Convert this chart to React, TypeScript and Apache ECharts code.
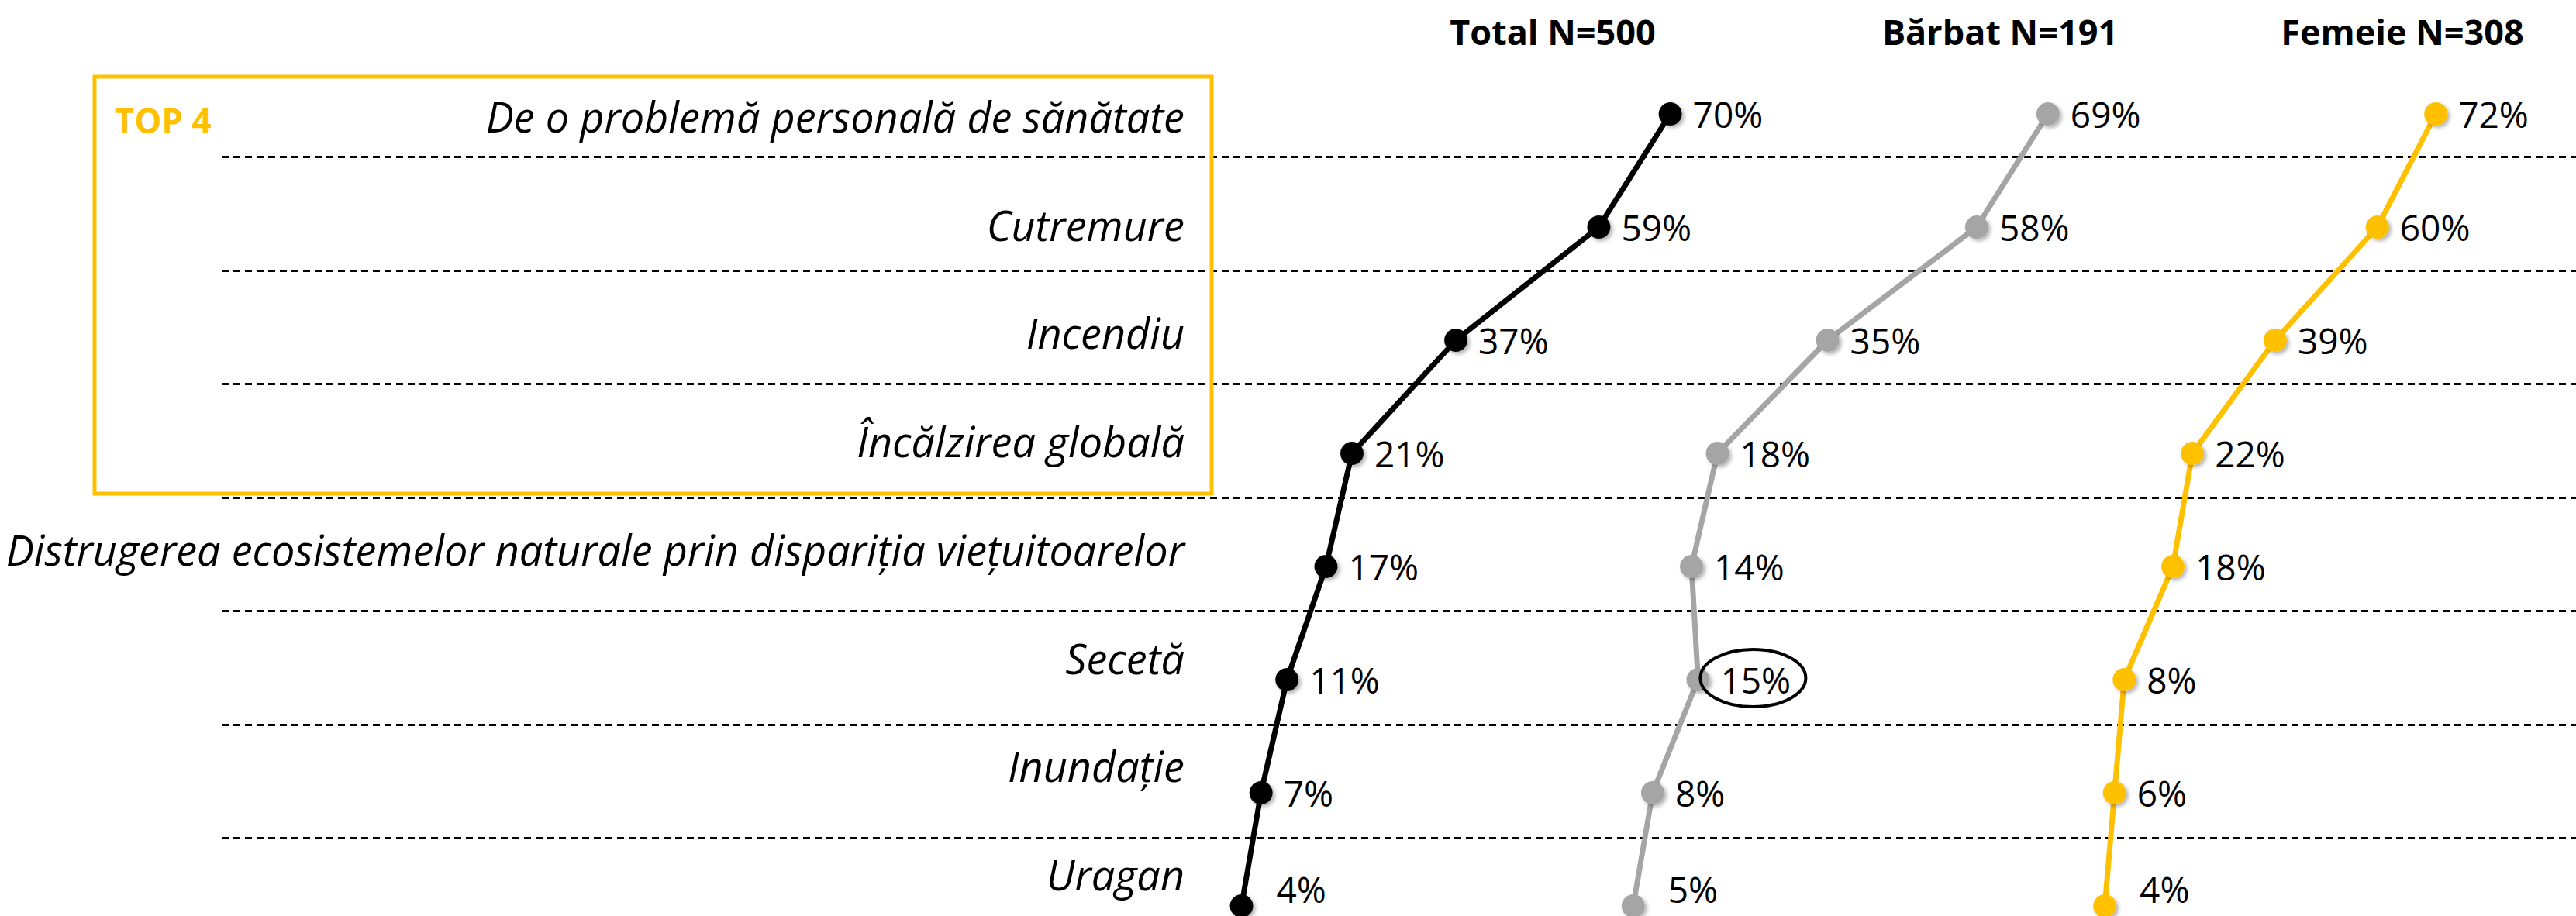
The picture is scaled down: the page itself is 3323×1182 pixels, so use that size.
import React, { useEffect, useRef } from 'react';
import * as echarts from 'echarts';

const categories = [
  'De o problemă personală de sănătate',
  'Cutremure',
  'Incendiu',
  'Încălzirea globală',
  'Distrugerea ecosistemelor naturale prin dispariția viețuitoarelor',
  'Secetă',
  'Inundație',
  'Uragan',
];
const totalValues = [70, 59, 37, 21, 17, 11, 7, 4];
const barbatValues = [69, 58, 35, 18, 14, 15, 8, 5];
const femeieValues = [72, 60, 39, 22, 18, 8, 6, 4];
const seriesNames = ['Total N=500', 'Bărbat N=191', 'Femeie N=308'];
const seriesColors = ['#000000', '#A5A5A5', '#FFC000'];
const boxTitle = 'TOP 4';
const highlightSeries = 1;
const highlightCategory = 'Secetă';

const W = 3323;
const H = 1182;
const FONT = "'Open Sans', 'Noto Sans', sans-serif";

export default function App() {
  const ref = useRef<HTMLDivElement>(null);

  useEffect(() => {
    document.body.style.margin = '0';
    const chart = echarts.init(ref.current!, null, { renderer: 'svg', width: W, height: H });
    const valueSets = [totalValues, barbatValues, femeieValues];
    const pointGrids = [
      { left: 1568, width: 838 },
      { left: 2065, width: 836 },
      { left: 2690, width: 628 },
    ];
    const grids: any[] = [
      { left: 286, width: W - 286, top: 56, height: 1172 },
      { left: 1540, width: 10, top: 150, height: 978 },
      ...pointGrids.map((g) => ({ ...g, top: 147, height: 1022 })),
    ].map((g) => ({ ...g, containLabel: false, outerBoundsMode: 'none', show: false }));

    const hiddenValueX = (gi: number) => ({
      type: 'value',
      gridIndex: gi,
      min: 0,
      max: 100,
      show: false,
    });

    const xAxis = grids.map((_, gi) => hiddenValueX(gi));
    const yAxis: any[] = [
      {
        type: 'category',
        gridIndex: 0,
        data: categories,
        inverse: true,
        boundaryGap: true,
        axisLine: { show: false },
        axisTick: { show: false },
        axisLabel: { show: false },
        splitLine: {
          show: true,
          interval: 0,
          showMinLine: false,
          showMaxLine: false,
          lineStyle: { color: '#000', width: 3, type: [9, 6] },
        },
      },
      {
        type: 'category',
        gridIndex: 1,
        data: categories,
        inverse: true,
        boundaryGap: false,
        axisLine: { show: false },
        axisTick: { show: false },
        splitLine: { show: false },
        axisLabel: {
          show: true,
          interval: 0,
          margin: 12,
          fontSize: 54,
          fontStyle: 'italic',
          fontFamily: FONT,
          color: '#000',
        },
      },
      ...pointGrids.map((_, i) => ({
        type: 'category',
        gridIndex: i + 2,
        data: categories,
        inverse: true,
        boundaryGap: false,
        show: false,
      })),
    ];

    const series = valueSets.map((vals, i) => ({
      type: 'line',
      name: seriesNames[i],
      xAxisIndex: i + 2,
      yAxisIndex: i + 2,
      data: vals.map((v, j) =>
        j === vals.length - 1
          ? { value: [v, categories[j]], label: { offset: [16, -22] } }
          : { value: [v, categories[j]] }
      ),
      symbol: 'circle',
      symbolSize: 30,
      lineStyle: { color: seriesColors[i], width: 7 },
      itemStyle: {
        color: seriesColors[i],
        shadowBlur: 5,
        shadowColor: 'rgba(0,0,0,0.3)',
        shadowOffsetX: 3,
        shadowOffsetY: 3,
      },
      label: {
        show: true,
        position: 'right',
        distance: 14,
        formatter: (p: any) => (Array.isArray(p.value) ? p.value[0] : p.value) + '%',
        fontSize: 46,
        lineHeight: 46,
        fontFamily: FONT,
        color: '#000',
      },
      emphasis: { disabled: true },
      z: 3,
    }));

    chart.setOption({
      animation: false,
      backgroundColor: '#ffffff',
      grid: grids,
      xAxis,
      yAxis,
      series,
    });

    const headerX = [2003, 2580, 3099];
    const graphic: any[] = [
      {
        type: 'rect',
        shape: { x: 122, y: 99, width: 1441, height: 538 },
        style: { fill: 'none', stroke: '#FFC000', lineWidth: 5 },
        z: 1,
      },
      {
        type: 'text',
        style: {
          text: boxTitle,
          x: 148,
          y: 155,
          textAlign: 'left',
          align: 'left',
          textVerticalAlign: 'middle',
          verticalAlign: 'middle',
          fontSize: 44,
          fontWeight: 'bold',
          fontFamily: FONT,
          fill: '#FFC000',
        },
      },
      ...seriesNames.map((name, i) => ({
        type: 'text',
        style: {
          text: name,
          x: headerX[i],
          y: 40,
          textAlign: 'center',
          align: 'center',
          textVerticalAlign: 'middle',
          verticalAlign: 'middle',
          fontSize: 45,
          fontWeight: 'bold',
          fontFamily: FONT,
          fill: '#000',
        },
      })),
    ];

    const hIdx = categories.indexOf(highlightCategory);
    const hVal = valueSets[highlightSeries][hIdx];
    const pt = chart.convertToPixel({ seriesIndex: highlightSeries } as any, [hVal, highlightCategory]) as number[];
    if (pt && isFinite(pt[0]) && isFinite(pt[1])) {
      graphic.push({
        type: 'ellipse',
        shape: { cx: pt[0] + 71, cy: pt[1] - 2, rx: 68, ry: 37 },
        style: { fill: 'none', stroke: '#000', lineWidth: 4 },
        z: 10,
      });
    }
    chart.setOption({ graphic });

    return () => chart.dispose();
  }, []);

  return <div ref={ref} style={{ width: W, height: H, position: 'absolute', left: 0, top: 0 }} />;
}
